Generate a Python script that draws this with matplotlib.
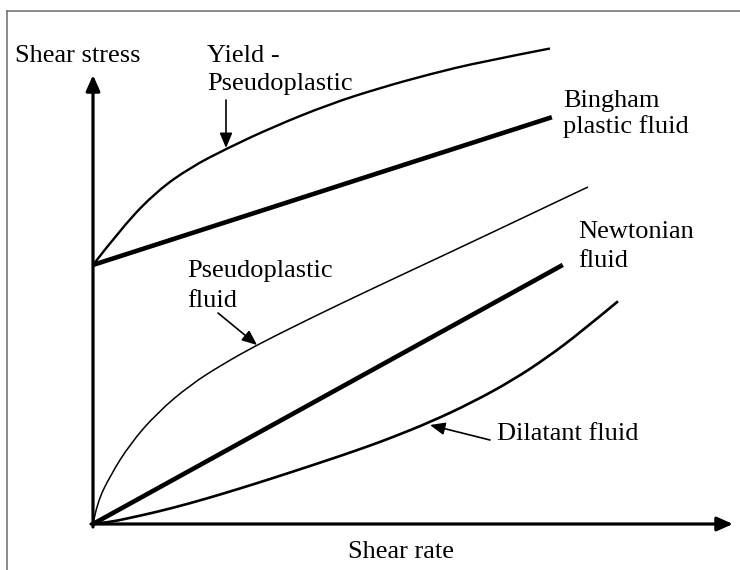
import matplotlib
matplotlib.use("Agg")
import matplotlib.pyplot as plt
from matplotlib.lines import Line2D
from matplotlib.path import Path
from matplotlib.patches import PathPatch

# ---- data (arbitrary schematic units: shear rate vs shear stress) ----
yield_x = [0.0, 0.47, 1.0, 1.52, 2.09, 2.81, 3.70, 4.48, 5.27, 6.05, 7.14]
yield_y = [5.77, 6.637, 7.416, 7.94, 8.363, 8.842, 9.354, 9.71, 10.022, 10.29, 10.59]

bingham_x = [0.0, 7.17]
bingham_y = [5.77, 9.06]

pseudo_x = [0.0, 0.0625, 0.266, 0.578, 1.0, 1.516, 2.031, 2.5625, 3.1875, 3.859, 4.953, 5.89, 7.734]
pseudo_y = [0.0, 0.468, 1.069, 1.782, 2.472, 3.096, 3.563, 3.987, 4.432, 4.90, 5.635, 6.258, 7.506]

newton_x = [0.0, 7.34]
newton_y = [0.0, 5.77]

dilat_x = [0.0, 0.266, 0.469, 1.0, 1.516, 2.031, 2.5625, 3.078, 3.859, 4.328, 4.641, 5.266, 5.938, 6.5625, 7.094, 7.609, 8.203]
dilat_y = [0.0, 0.045, 0.102, 0.269, 0.461, 0.675, 0.909, 1.145, 1.512, 1.746, 1.911, 2.267, 2.717, 3.207, 3.706, 4.258, 4.96]

x_label = "Shear rate"
y_label = "Shear stress"

W, H = 740, 570
OX, OY = 93, 524          # origin in pixels
SX, SY = 64.0, 44.9       # pixels per data unit


def P(px, py):
    return (px - OX) / SX, (OY - py) / SY


def smooth_curve(ax, xs, ys, lw):
    pts = list(zip(xs, ys))
    n = len(pts)
    verts = [pts[0]]
    codes = [Path.MOVETO]
    if n == 2:
        verts.append(pts[1])
        codes.append(Path.LINETO)
    else:
        for i in range(1, n - 1):
            if i < n - 2:
                end = ((pts[i][0] + pts[i + 1][0]) / 2, (pts[i][1] + pts[i + 1][1]) / 2)
            else:
                end = pts[n - 1]
            verts += [pts[i], end]
            codes += [Path.CURVE3, Path.CURVE3]
    patch = PathPatch(Path(verts, codes), fill=False, edgecolor="black", lw=lw,
                      capstyle="butt", joinstyle="round")
    ax.add_patch(patch)


fig = plt.figure(figsize=(W / 100, H / 100), dpi=100)
ax = fig.add_axes([0, 0, 1, 1])
x0, y0 = P(0, H)
x1, y1 = P(W, 0)
ax.set_xlim(x0, x1)
ax.set_ylim(y0, y1)
ax.axis("off")

# frame (left and top only)
fig.add_artist(Line2D([7 / W, 7 / W], [0, 1 - 11 / H], color="#777777", lw=1.2))
fig.add_artist(Line2D([7 / W, 1], [1 - 11 / H, 1 - 11 / H], color="#777777", lw=1.2))

# axes with arrows
axis_arrow = dict(arrowstyle="-|>,head_length=0.95,head_width=0.42", lw=2.3,
                  color="black", shrinkA=0, shrinkB=0)
ax.annotate("", xy=P(93, 75), xytext=P(93, 527), arrowprops=axis_arrow)
ax.annotate("", xy=P(733, 524), xytext=P(91, 524), arrowprops=axis_arrow)

# curves
smooth_curve(ax, yield_x, yield_y, 1.7)
smooth_curve(ax, bingham_x, bingham_y, 3.3)
smooth_curve(ax, pseudo_x, pseudo_y, 1.1)
smooth_curve(ax, newton_x, newton_y, 3.3)
smooth_curve(ax, dilat_x, dilat_y, 1.9)

# labels
font = dict(family="Liberation Serif", size=19, color="black", ha="left", va="baseline")
labels = [
    (y_label, 15, 62),
    ("Yield -", 207, 62),
    ("Pseudoplastic", 207, 90),
    ("Bingham", 563, 107),
    ("plastic fluid", 563, 133),
    ("Pseudoplastic", 187, 277),
    ("fluid", 187, 307),
    ("Newtonian", 578, 238),
    ("fluid", 578, 267),
    ("Dilatant fluid", 497, 440),
    (x_label, 348, 558),
]
for t, px, py in labels:
    ax.text(*P(px, py), t, **font)

# pointer arrows
arr = dict(arrowstyle="-|>,head_length=0.9,head_width=0.38", lw=1.2, color="black",
           shrinkA=0, shrinkB=0)
ax.annotate("", xy=P(226, 148), xytext=P(226, 100), arrowprops=arr)
ax.annotate("", xy=P(257, 345), xytext=P(218, 313), arrowprops=arr)
ax.annotate("", xy=P(430, 425), xytext=P(490, 440), arrowprops=arr)

fig.savefig("out.png", dpi=100)
